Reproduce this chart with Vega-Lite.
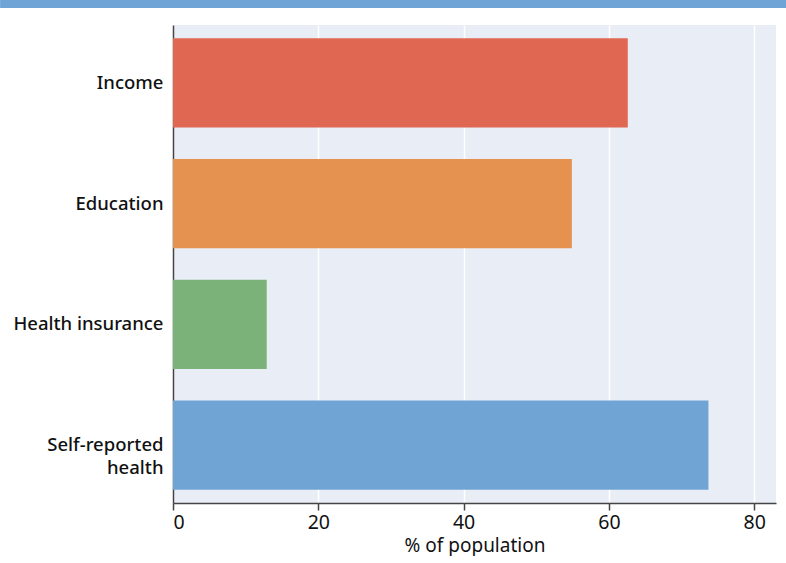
{
  "$schema": "https://vega.github.io/schema/vega-lite/v6.json",
  "padding": 0,
  "spacing": 17,
  "background": "white",
  "config": {
    "font": "Noto Sans",
    "view": {"stroke": null}
  },
  "vconcat": [
    {
      "width": 603,
      "height": 8,
      "data": {"values": [{"start": -23.8, "end": 84.5}]},
      "mark": {"type": "rect", "color": "#6fa5d6", "clip": false},
      "encoding": {
        "x": {"field": "start", "type": "quantitative", "scale": {"domain": [0, 83], "nice": false, "zero": false}, "axis": null},
        "x2": {"field": "end"}
      }
    },
    {
      "width": 603,
      "height": 478,
      "view": {"fill": "#e9edf6", "stroke": null},
      "data": {
        "values": [
          {"category": "Income", "percent": 62.6},
          {"category": "Education", "percent": 54.9},
          {"category": "Health insurance", "percent": 12.9},
          {"category": "Self-reported health", "percent": 73.7}
        ]
      },
      "mark": {"type": "bar"},
      "encoding": {
        "y": {
          "field": "category",
          "type": "nominal",
          "sort": ["Income", "Education", "Health insurance", "Self-reported health"],
          "scale": {"paddingInner": 0.26, "paddingOuter": 0.11},
          "axis": {
            "title": null,
            "ticks": false,
            "grid": false,
            "domain": true,
            "domainColor": "#444",
            "domainWidth": 1.5,
            "labelFontSize": 18.5,
            "labelFontWeight": 500,
            "labelColor": "#111",
            "labelPadding": 10,
            "labelLineHeight": 23,
            "labelLimit": 200,
            "minExtent": 173,
            "maxExtent": 173,
            "labelExpr": "datum.value == 'Self-reported health' ? ['Self-reported', 'health'] : datum.value"
          }
        },
        "x": {
          "field": "percent",
          "type": "quantitative",
          "scale": {"domain": [0, 83], "nice": false},
          "axis": {
            "title": "% of population",
            "values": [0, 20, 40, 60, 80],
            "grid": true,
            "gridColor": "white",
            "gridWidth": 1.5,
            "domainColor": "#444",
            "domainWidth": 1.5,
            "tickColor": "#444",
            "tickSize": 7,
            "tickWidth": 1.5,
            "labelFontSize": 19.5,
            "labelColor": "#111",
            "labelPadding": 3,
            "titleFontSize": 19,
            "titleFontWeight": "normal",
            "titleColor": "#111",
            "titlePadding": 5
          }
        },
        "color": {
          "field": "category",
          "type": "nominal",
          "scale": {
            "domain": ["Income", "Education", "Health insurance", "Self-reported health"],
            "range": ["#e06751", "#e5914f", "#7ab27a", "#6fa4d4"]
          },
          "legend": null
        }
      }
    }
  ]
}
